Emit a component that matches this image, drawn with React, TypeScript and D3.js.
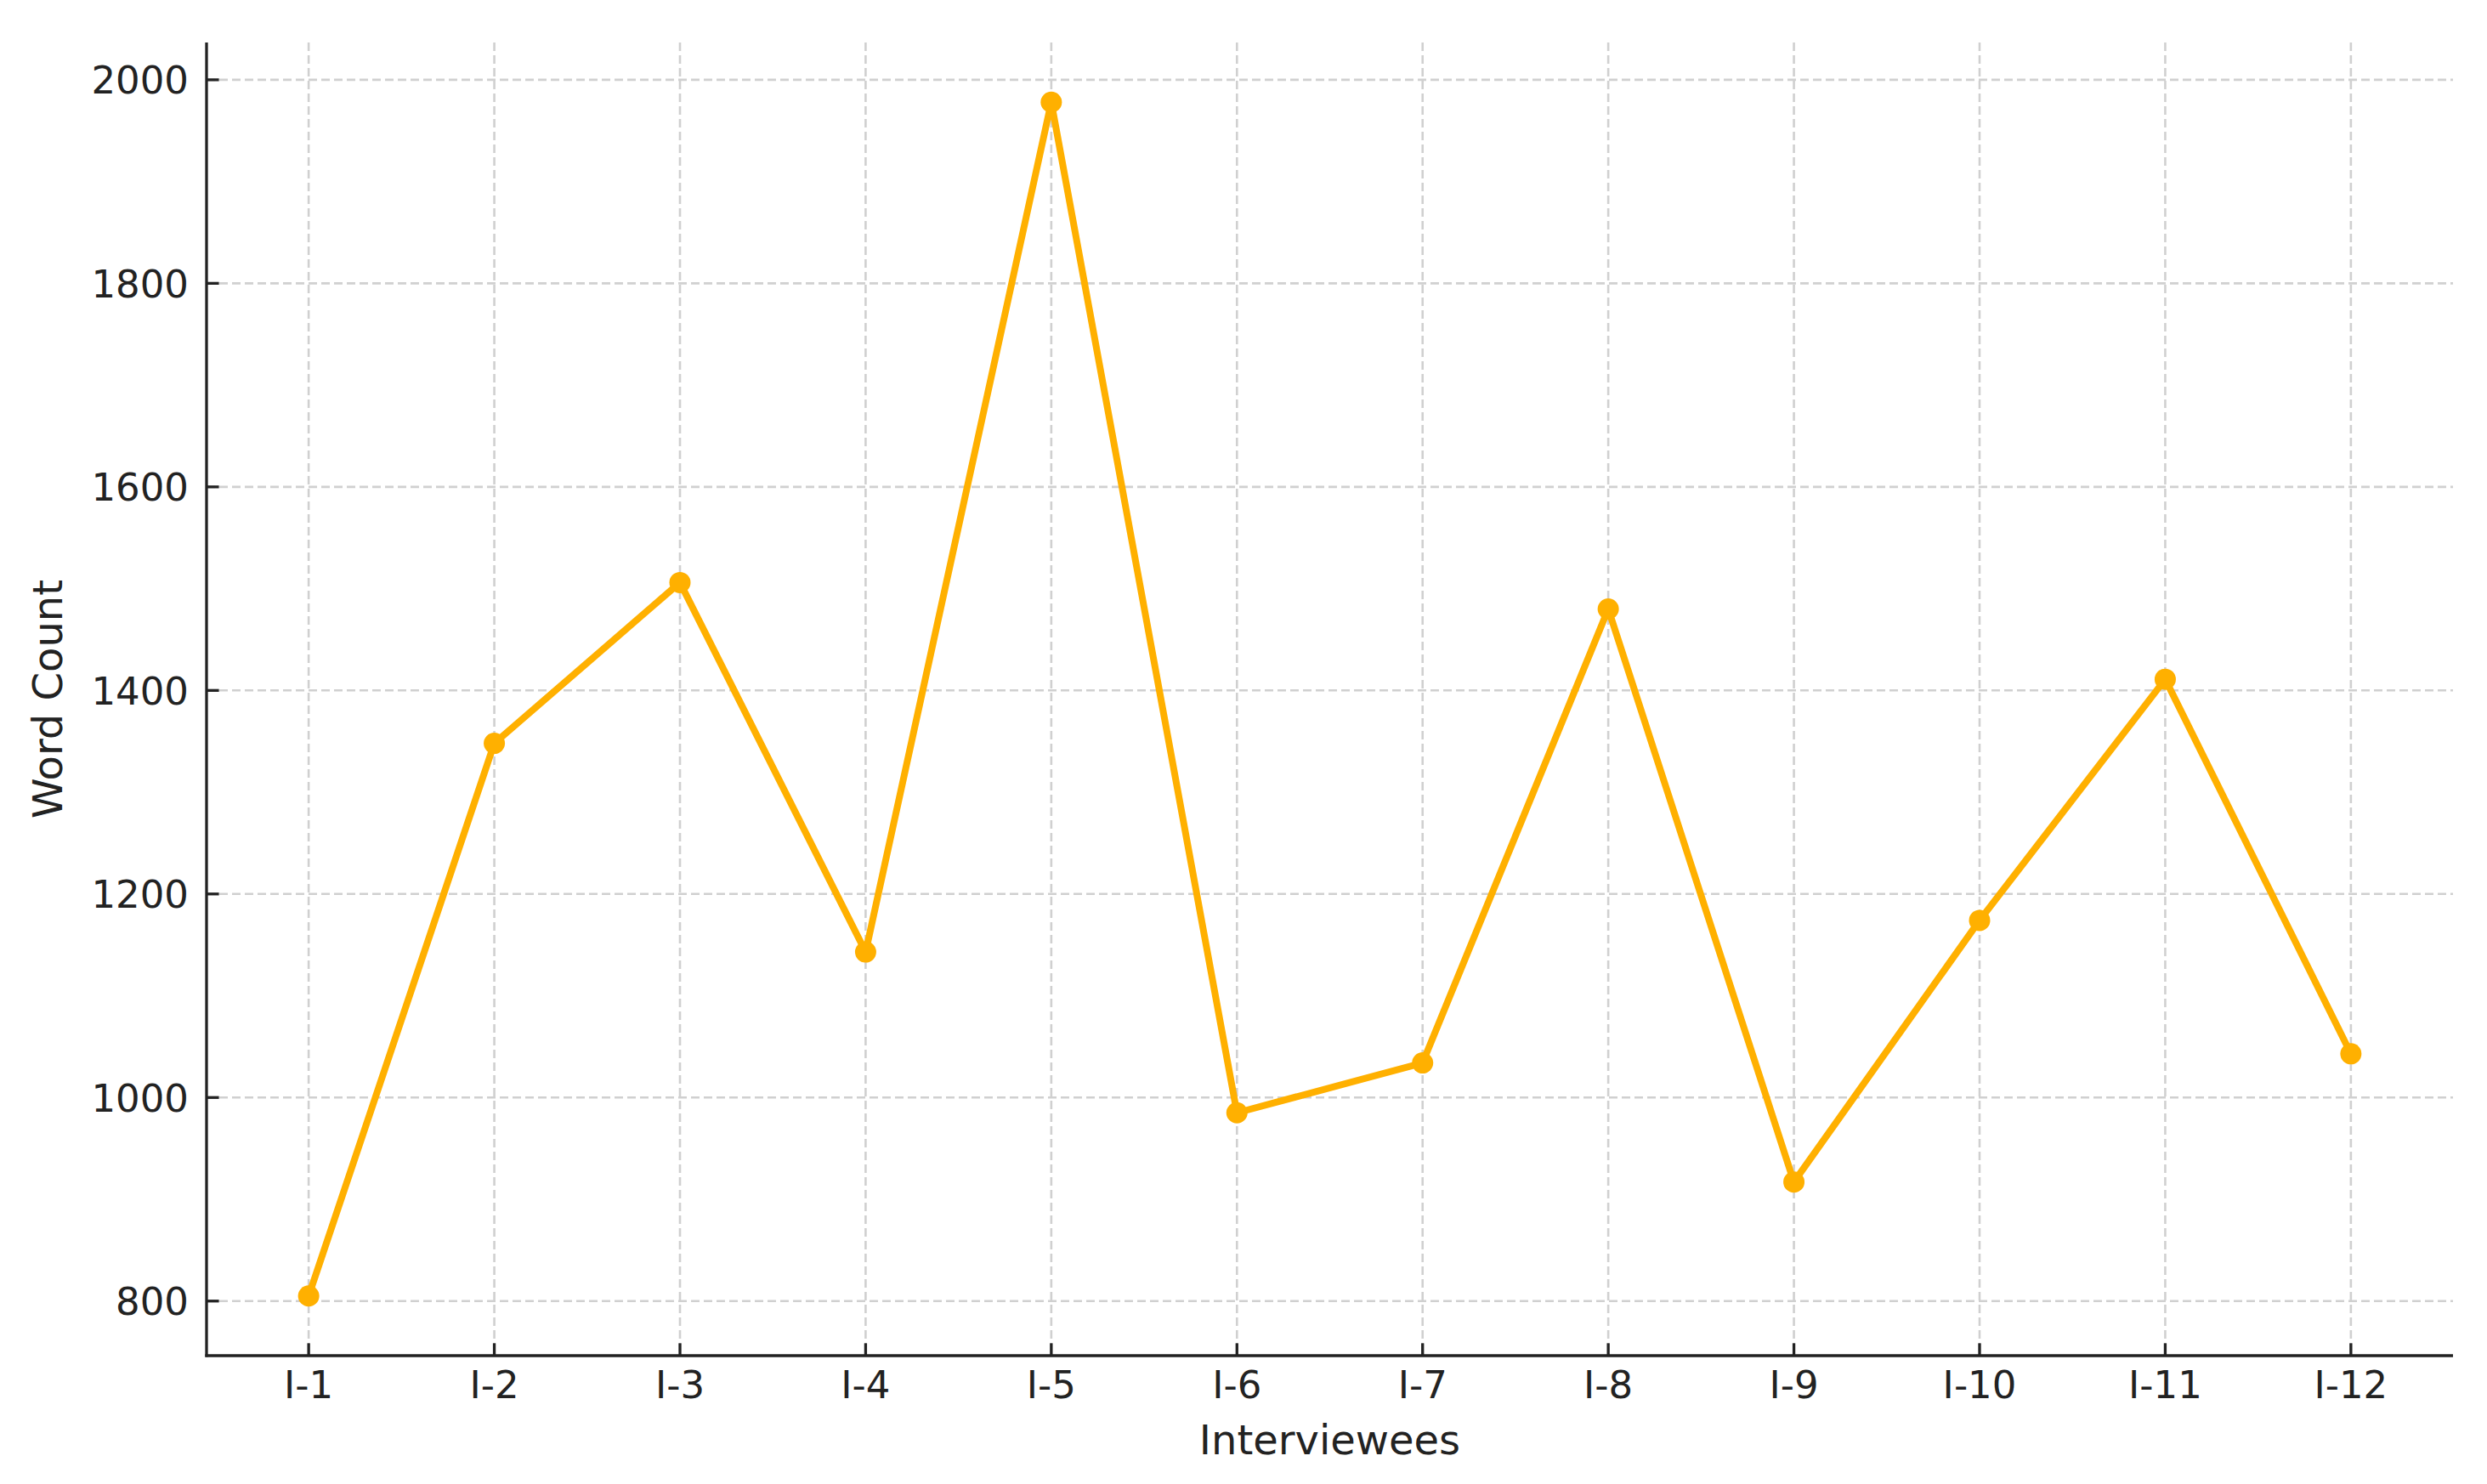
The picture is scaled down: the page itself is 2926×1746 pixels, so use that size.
import { useEffect } from "react";
import * as d3 from "d3";

const interviewees = ["I-1", "I-2", "I-3", "I-4", "I-5", "I-6", "I-7", "I-8", "I-9", "I-10", "I-11", "I-12"];
const wordCounts = [805, 1348, 1506, 1143, 1978, 985, 1034, 1480, 917, 1174, 1411, 1043];
const yTicks = [800, 1000, 1200, 1400, 1600, 1800, 2000];

const width = 2926;
const height = 1746;
const margin = { top: 50, right: 40, bottom: 151, left: 243 };

const font = "'DejaVu Sans', sans-serif";
const ink = "#222222";
const lineColor = "#FFB000";

const App = () => {
  useEffect(() => {
    document.body.style.margin = "0";
  }, []);

  const x = d3
    .scalePoint<string>()
    .domain(interviewees)
    .range([margin.left, width - margin.right])
    .padding(0.55);

  // matplotlib-style 5% autoscale margins
  const [lo, hi] = d3.extent(wordCounts) as [number, number];
  const pad = (hi - lo) * 0.05;
  const y = d3
    .scaleLinear()
    .domain([lo - pad, hi + pad])
    .range([height - margin.bottom, margin.top]);

  const line = d3
    .line<number>()
    .x((_, i) => x(interviewees[i])!)
    .y((d) => y(d));

  const left = margin.left;
  const right = width - margin.right;
  const top = margin.top;
  const bottom = height - margin.bottom;

  return (
    <svg width={width} height={height} style={{ display: "block", background: "#fff" }}>
      {/* grid */}
      <g stroke="#d0d0d0" strokeWidth={2.6} strokeDasharray="10,5">
        {interviewees.map((c) => (
          <line key={c} x1={x(c)} x2={x(c)} y1={top} y2={bottom} />
        ))}
        {yTicks.map((t) => (
          <line key={t} x1={left} x2={right} y1={y(t)} y2={y(t)} />
        ))}
      </g>

      {/* series */}
      <path d={line(wordCounts)!} fill="none" stroke={lineColor} strokeWidth={8} strokeLinejoin="round" />
      <g fill={lineColor}>
        {wordCounts.map((v, i) => (
          <circle key={i} cx={x(interviewees[i])} cy={y(v)} r={12.5} />
        ))}
      </g>

      {/* spines */}
      <g stroke={ink} strokeWidth={3.3}>
        <line x1={left} x2={left} y1={top} y2={bottom + 1.6} />
        <line x1={left - 1.6} x2={right} y1={bottom} y2={bottom} />
      </g>

      {/* x ticks */}
      <g fontFamily={font} fontSize={45} fill={ink} textAnchor="middle">
        {interviewees.map((c) => (
          <g key={c}>
            <line x1={x(c)} x2={x(c)} y1={bottom} y2={bottom - 14.6} stroke={ink} strokeWidth={3.3} />
            <text x={x(c)} y={bottom + 50}>{c}</text>
          </g>
        ))}
      </g>

      {/* y ticks */}
      <g fontFamily={font} fontSize={45} fill={ink} textAnchor="end">
        {yTicks.map((t) => (
          <g key={t}>
            <line x1={left} x2={left + 14.6} y1={y(t)} y2={y(t)} stroke={ink} strokeWidth={3.3} />
            <text x={left - 21} y={y(t) + 16.4}>{t}</text>
          </g>
        ))}
      </g>

      {/* axis labels */}
      <text
        x={(left + right) / 2}
        y={1711}
        textAnchor="middle"
        fontFamily={font}
        fontSize={48}
        fill={ink}
      >
        Interviewees
      </text>
      <text
        transform={`translate(73,${(top + bottom) / 2}) rotate(-90)`}
        textAnchor="middle"
        fontFamily={font}
        fontSize={48}
        fill={ink}
      >
        Word Count
      </text>
    </svg>
  );
};

export default App;
